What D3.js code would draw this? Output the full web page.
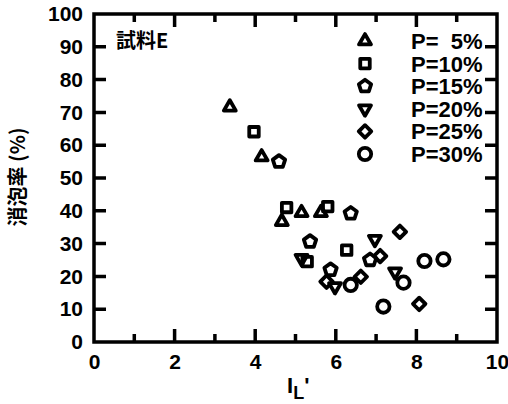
<!DOCTYPE html>
<html>
<head>
<meta charset="utf-8">
<script src="https://cdn.jsdelivr.net/npm/d3@7"></script>
<style>
  html, body { margin: 0; padding: 0; background: #fff; }
  svg { display: block; }
  text { font-family: "Liberation Sans", Arial, sans-serif; font-weight: bold; fill: #000; }
  .cjk { font-family: "Noto Sans CJK JP", "Noto Sans CJK SC", sans-serif; font-weight: bold; }
</style>
</head>
<body>
<svg id="chart" width="508" height="404"></svg>
<script>
// Defoaming ratio vs. I_L' for sample E, one series per P value
const seriesLabels = ["P=  5%", "P=10%", "P=15%", "P=20%", "P=25%", "P=30%"];
const seriesShapes = ["triangle", "square", "pentagon", "invtriangle", "diamond", "circle"];

const p5X  = [3.37, 4.16, 4.66, 5.15, 5.63];
const p5Y  = [71.6, 56.4, 36.7, 39.4, 39.4];
const p10X = [3.97, 4.78, 5.80, 5.29, 6.27];
const p10Y = [64.1, 41.0, 41.3, 24.5, 28.0];
const p15X = [4.59, 5.36, 5.87, 6.37, 6.85];
const p15Y = [55.0, 30.6, 22.0, 39.2, 25.0];
const p20X = [5.15, 5.98, 6.97, 7.47];
const p20Y = [25.5, 16.9, 31.3, 21.4];
const p25X = [5.77, 6.62, 7.10, 7.59, 8.07];
const p25Y = [18.4, 19.9, 26.2, 33.6, 11.6];
const p30X = [6.37, 7.18, 7.68, 8.20, 8.67];
const p30Y = [17.4, 10.8, 18.1, 24.7, 25.2];

const xMajorTicks = [0, 2, 4, 6, 8, 10];
const xMinorTicks = [1, 3, 5, 7, 9];
const yTickValues = [0, 10, 20, 30, 40, 50, 60, 70, 80, 90, 100];
const xTitle = "I";
const xTitleSub = "L";
const yTitle = "消泡率 (%)";
const sampleLabel = "試料E";

const allX = [p5X, p10X, p15X, p20X, p25X, p30X];
const allY = [p5Y, p10Y, p15Y, p20Y, p25Y, p30Y];

const svg = d3.select("#chart");
const L = 94, R = 497, T = 14, B = 342;
const x = d3.scaleLinear().domain([0, 10]).range([L, R]);
const y = d3.scaleLinear().domain([0, 100]).range([B, T]);

// marker path generators
const pentagon = {
  draw(ctx, size) {
    const r = Math.sqrt(size / 2.378);
    for (let i = 0; i < 5; i++) {
      const a = -Math.PI / 2 + i * 2 * Math.PI / 5;
      const px = r * Math.cos(a), py = r * Math.sin(a);
      if (i === 0) ctx.moveTo(px, py); else ctx.lineTo(px, py);
    }
    ctx.closePath();
  }
};
function markerPath(shape) {
  switch (shape) {
    case "triangle": return { d: d3.symbol(d3.symbolTriangle, 62)(), rot: 0 };
    case "invtriangle": return { d: d3.symbol(d3.symbolTriangle, 62)(), rot: 180 };
    case "square": return { d: d3.symbol(d3.symbolSquare, 90)(), rot: 0 };
    case "diamond": return { d: d3.symbol(d3.symbolSquare, 78)(), rot: 45 };
    case "pentagon": return { d: d3.symbol(pentagon, 100)(), rot: 0 };
    default: return { d: d3.symbol(d3.symbolCircle, 120)(), rot: 0 };
  }
}

// tick labels from d3 axes
function styleLabels(g) {
  g.select(".domain").remove();
  g.selectAll(".tick line").remove();
  g.selectAll(".tick text")
    .style("font-size", "21px")
    .style("font-family", "'Liberation Sans', Arial, sans-serif")
    .style("font-weight", "bold");
}
svg.append("g").attr("transform", `translate(0,${B})`)
  .call(d3.axisBottom(x).tickValues(xMajorTicks).tickSize(0).tickPadding(9).tickFormat(d3.format("d")))
  .call(styleLabels)
  .selectAll(".tick text").attr("dy", "0.85em");
svg.append("g").attr("transform", `translate(${L},0)`)
  .call(d3.axisLeft(y).tickValues(yTickValues).tickSize(0).tickPadding(11).tickFormat(d3.format("d")))
  .call(styleLabels);

// plot frame plus inward tick marks on all four sides, in one outline
const xTicks = xMajorTicks.map(v => [v, 13]).concat(xMinorTicks.map(v => [v, 8]));
const fp = d3.path();
fp.rect(L, T, R - L, B - T);
xTicks.forEach(([v, len]) => {
  fp.moveTo(x(v), B); fp.lineTo(x(v), B - len);
  fp.moveTo(x(v), T); fp.lineTo(x(v), T + len);
});
yTickValues.forEach(v => {
  fp.moveTo(L, y(v)); fp.lineTo(L + 12, y(v));
  fp.moveTo(R, y(v)); fp.lineTo(R - 12, y(v));
});
svg.append("path").attr("class", "frame").attr("d", fp.toString())
  .attr("fill", "none").attr("stroke", "#000").attr("stroke-width", 3.5);

// data markers
seriesShapes.forEach((shape, i) => {
  const m = markerPath(shape);
  const pts = allX[i].map((v, j) => [v, allY[i][j]]);
  svg.append("g").selectAll("path").data(pts).join("path")
    .attr("d", m.d)
    .attr("transform", d => `translate(${x(d[0])},${y(d[1])}) rotate(${m.rot})`)
    .attr("fill", "none").attr("stroke", "#000").attr("stroke-width", 3.8)
    .attr("stroke-linejoin", "round");
});

// legend
const legend = svg.append("g");
seriesLabels.forEach((lab, i) => {
  const m = markerPath(seriesShapes[i]);
  const ly = 41 + i * 22.6;
  legend.append("path").attr("d", m.d)
    .attr("transform", `translate(365,${ly}) rotate(${m.rot})`)
    .attr("fill", "none").attr("stroke", "#000").attr("stroke-width", 3.8)
    .attr("stroke-linejoin", "round");
  legend.append("text").attr("x", 411).attr("y", ly + 8)
    .attr("xml:space", "preserve").style("white-space", "pre")
    .style("font-size", "22px").text(lab);
});

// sample label
svg.append("text").attr("class", "cjk")
  .attr("x", 116).attr("y", 48).style("font-size", "20px").text(sampleLabel);

// axis titles
const xt = svg.append("text").attr("x", 287).attr("y", 393).style("font-size", "22px");
xt.append("tspan").text(xTitle);
xt.append("tspan").attr("dy", 6).style("font-size", "18px").text(xTitleSub);
xt.append("tspan").attr("dy", -6).text("'");

svg.append("text").attr("class", "cjk")
  .attr("transform", "translate(25,177) rotate(-90)")
  .attr("text-anchor", "middle").style("font-size", "20px").text(yTitle);
</script>
</body>
</html>
